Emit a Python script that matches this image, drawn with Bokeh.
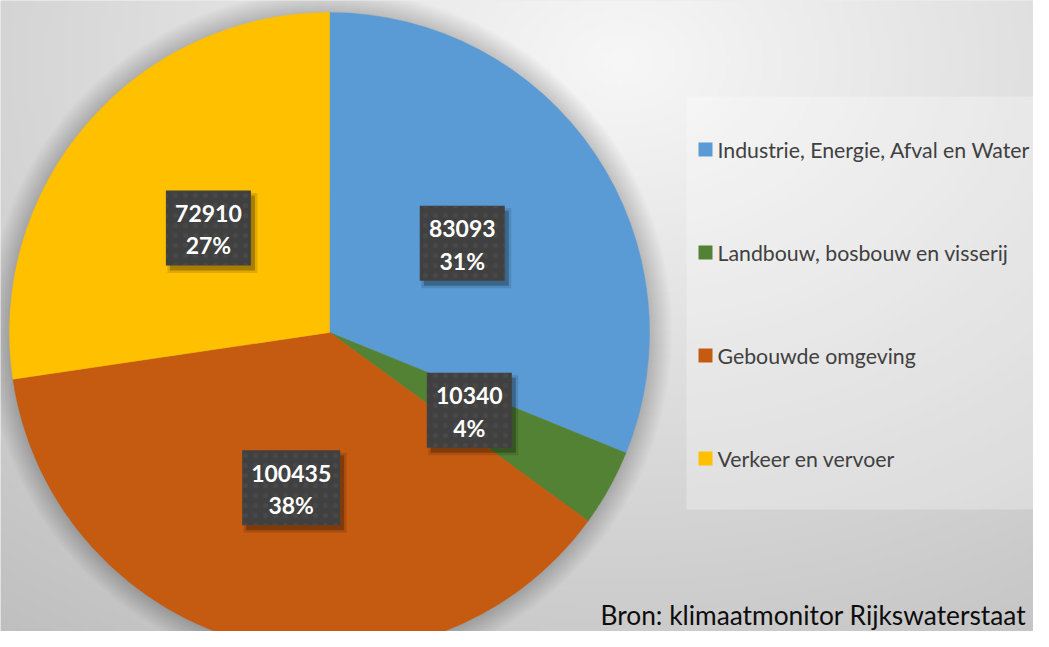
import numpy as np
from bokeh.plotting import figure
from bokeh.models import Range1d, ColumnDataSource
from bokeh.core.properties import value
from bokeh.embed import file_html
from bokeh.resources import INLINE

# ---- data ----
categories = ["Industrie, Energie, Afval en Water",
              "Landbouw, bosbouw en visserij",
              "Gebouwde omgeving",
              "Verkeer en vervoer"]
values = [83093, 10340, 100435, 72910]
colors = ["#5B9BD5", "#548235", "#C55A11", "#FFC000"]
source_note = "Bron: klimaatmonitor Rijkswaterstaat"

# ---- layout (reference pixel coordinates, y measured downwards) ----
W, H = 1049, 647
FW, FH = 1033, 631
CX, CY, R = 329, 332, 320
FONT = "Lato"


def Y(y):
    return H - y


p = figure(width=FW, height=FH, x_range=Range1d(0, FW), y_range=Range1d(H - FH, H),
           output_backend="svg", toolbar_location=None, min_border=0,
           x_axis_location=None, y_axis_location=None)
p.grid.visible = False
p.outline_line_color = None
p.background_fill_color = "#dcdcdc"
p.border_fill_color = "#dcdcdc"

# ---- background radial gradient ----
nx, ny = 263, 162
xc = (np.arange(nx) + 0.5) * W / nx
yc = H - (np.arange(ny) + 0.5) * H / ny
XX, YY = np.meshgrid(xc, yc)
t = np.sqrt(((XX - 620) / 900.0) ** 2 + ((YY - 60) / 650.0) ** 2)
c = np.clip(247 - 50 * t, 190, 247).astype(np.uint8)
img = np.empty((ny, nx), dtype=np.uint32)
view = img.view(dtype=np.uint8).reshape((ny, nx, 4))
view[..., 0] = c
view[..., 1] = c
view[..., 2] = c
view[..., 3] = 255
p.image_rgba(image=[img], x=0, y=0, dw=W, dh=H)

# ---- pie shadow ----
for k in range(1, 24):
    p.circle(x=[CX], y=[Y(CY)], radius=R + k, fill_color="black", fill_alpha=0.0065,
             line_color=None)

# ---- wedges ----
total = float(sum(values))
fracs = [v / total for v in values]
cum = np.concatenate([[0.0], np.cumsum(fracs)])
start = [np.pi / 2 - 2 * np.pi * cum[i] for i in range(len(values))]
end = [np.pi / 2 - 2 * np.pi * cum[i + 1] for i in range(len(values))]
wsrc = ColumnDataSource(dict(start=start, end=end, color=colors, cat=categories))
p.wedge(x=CX, y=Y(CY), radius=R, start_angle="start", end_angle="end",
        direction="clock", fill_color="color", line_color="color", line_width=0.5,
        source=wsrc)

# ---- data labels ----
mid = [(s + e) / 2 for s, e in zip(start, end)]
lx = [CX + 160 * np.cos(m) for m in mid]
ly = [Y(CY) + 160 * np.sin(m) for m in mid]
lw = [20 + 13 * len(str(v)) for v in values]
vtxt = [str(v) for v in values]
ptxt = ["%d%%" % round(f * 100) for f in fracs]
lsrc = ColumnDataSource(dict(x=lx, y=ly, w=lw, w2=[w + 5 for w in lw],
                             sx=[x + 4 for x in lx], sy=[y - 5 for y in ly],
                             vy=[y + 14.5 for y in ly], py=[y - 17.5 for y in ly],
                             v=vtxt, pc=ptxt))
p.rect(x="sx", y="sy", width="w2", height=80, fill_color="black", fill_alpha=0.12,
       line_color=None, source=lsrc)
p.rect(x="sx", y="sy", width="w", height=75, fill_color="black", fill_alpha=0.25,
       line_color=None, source=lsrc)
p.rect(x="x", y="y", width="w", height=75, fill_color="#404040", line_color=None,
       hatch_pattern="dot", hatch_color="#555555", hatch_scale=10, hatch_weight=2,
       hatch_alpha=0.35, source=lsrc)
p.text(x="x", y="vy", text="v", text_align="center", text_baseline="middle",
       text_font=value(FONT), text_font_style="bold", text_font_size="23px",
       text_color="white", source=lsrc)
p.text(x="x", y="py", text="pc", text_align="center", text_baseline="middle",
       text_font=value(FONT), text_font_style="bold", text_font_size="23px",
       text_color="white", source=lsrc)

# ---- legend ----
p.quad(left=686, right=W, top=Y(96), bottom=Y(509), fill_color="white",
       fill_alpha=0.28, line_color=None)
rows = [149 + 103 * i for i in range(len(categories))]
gsrc = ColumnDataSource(dict(x=[705] * len(categories), y=[Y(r) for r in rows],
                             tx=[717] * len(categories), ty=[Y(r) for r in rows],
                             color=colors, cat=categories))
p.rect(x="x", y="y", width=14, height=14, fill_color="color", line_color=None, source=gsrc)
p.text(x="tx", y="ty", text="cat", text_align="left", text_baseline="middle",
       text_font=value(FONT), text_font_size="21.3px", text_color="#404040", source=gsrc)

# ---- source note ----
p.text(x=[600], y=[Y(614)], text=[source_note], text_align="left",
       text_baseline="middle", text_font=value(FONT), text_font_size="26.3px",
       text_color="#0d0d0d")

open("out.html", "w").write(file_html(p, INLINE))
